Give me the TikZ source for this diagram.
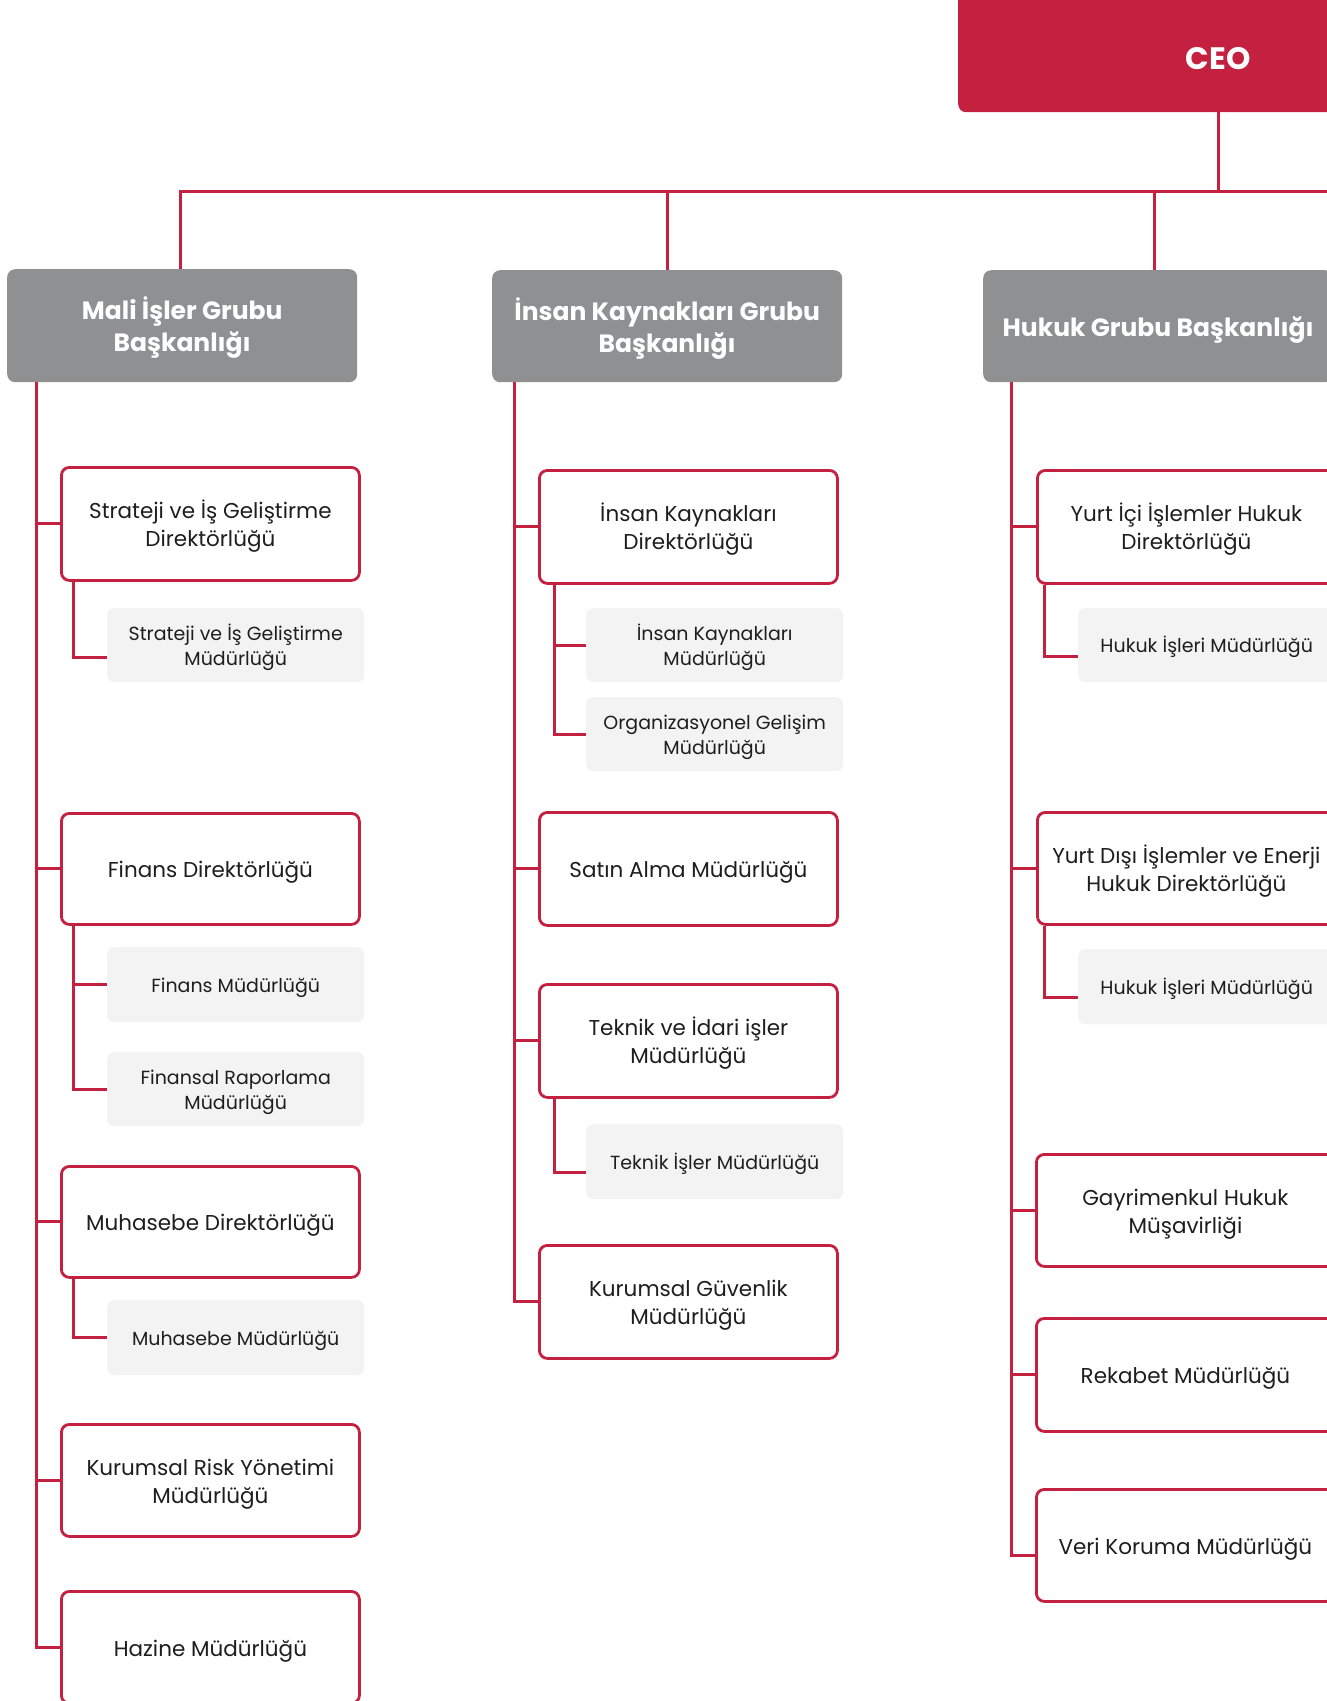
\documentclass[tikz,border=0pt]{standalone}
\usepackage{fontspec}
\setmainfont{Poppins}
\definecolor{brand}{HTML}{C4203F}
\definecolor{hgrey}{HTML}{8F9092}
\definecolor{subgrey}{HTML}{F3F3F3}
\definecolor{ink}{HTML}{1E1E1E}
\newcommand\mytop{\rule{0pt}{1.07em}}
\begin{document}
\begin{tikzpicture}[x=1pt,y=-1pt,
  conn/.style={draw=brand,line width=3pt},
  grpbox/.style={fill=hgrey, rounded corners=8pt, anchor=north west, minimum width=350pt, text=white, font=\bfseries\fontsize{25}{32}\selectfont, align=center, inner sep=0pt},
  dirbox/.style={draw=brand, line width=2.8pt, fill=white, rounded corners=8pt, anchor=north west, minimum width=298pt, text=ink, font=\fontsize{21.5}{28}\selectfont, align=center, inner sep=0pt},
  subbox/.style={fill=subgrey, rounded corners=7pt, anchor=north west, minimum width=257pt, minimum height=74pt, text=ink, font=\fontsize{19}{25.5}\selectfont, align=center, inner sep=0pt},
]
\useasboundingbox (0,0) rectangle (1327,1701);
\clip (0,0) rectangle (1327,1701);

% CEO
\node[fill=brand, rounded corners=8pt, anchor=north west, minimum width=520pt, minimum height=136pt, inner sep=0pt, text=white, font=\bfseries\fontsize{31}{31}\selectfont] (ceo) at (958,-24) {\raisebox{-25pt}[0pt][0pt]{CEO}};

% group heads
\node[grpbox, minimum height=113pt] (mali) at (7,269) {\mytop Mali İşler Grubu\\Başkanlığı};
\node[grpbox, minimum height=112pt] (hr) at (492,270) {\mytop İnsan Kaynakları Grubu\\Başkanlığı};
\node[grpbox, minimum height=112pt] (huk) at (983,270) {\mytop Hukuk Grubu Başkanlığı};

% Mali column
\node[dirbox, minimum height=113pt] (sd) at (60,466) {\mytop Strateji ve İş Geliştirme\\Direktörlüğü};
\node[subbox] (sds) at (107,608) {\mytop Strateji ve İş Geliştirme\\Müdürlüğü};
\node[dirbox, minimum height=111pt] (fd) at (60,812) {\mytop Finans Direktörlüğü};
\node[subbox, minimum height=75pt] (fm) at (107,947) {\mytop Finans Müdürlüğü};
\node[subbox] (frm) at (107,1052) {\mytop Finansal Raporlama\\Müdürlüğü};
\node[dirbox, minimum height=111pt] (md) at (60,1165) {\mytop Muhasebe Direktörlüğü};
\node[subbox, minimum height=75pt] (mm) at (107,1300) {\mytop Muhasebe Müdürlüğü};
\node[dirbox, minimum height=112pt] (kry) at (60,1423) {\mytop Kurumsal Risk Yönetimi\\Müdürlüğü};
\node[dirbox, minimum height=112pt] (hz) at (60,1590) {\mytop Hazine Müdürlüğü};

% HR column
\node[dirbox, minimum height=113pt] (ikd) at (538,469) {\mytop İnsan Kaynakları\\Direktörlüğü};
\node[subbox] (ikm) at (586,608) {\mytop İnsan Kaynakları\\Müdürlüğü};
\node[subbox] (ogm) at (586,697) {\mytop Organizasyonel Gelişim\\Müdürlüğü};
\node[dirbox, minimum height=113pt] (sam) at (538,811) {\mytop Satın Alma Müdürlüğü};
\node[dirbox, minimum height=113pt] (tim) at (538,983) {\mytop Teknik ve İdari işler\\Müdürlüğü};
\node[subbox, minimum height=75pt] (tis) at (586,1124) {\mytop Teknik İşler Müdürlüğü};
\node[dirbox, minimum height=113pt] (kgm) at (538,1244) {\mytop Kurumsal Güvenlik\\Müdürlüğü};

% Hukuk column
\node[dirbox, minimum height=113pt] (yid) at (1036,469) {\mytop Yurt İçi İşlemler Hukuk\\Direktörlüğü};
\node[subbox] (yim) at (1078,608) {\mytop Hukuk İşleri Müdürlüğü};
\node[dirbox, minimum height=112pt] (ydd) at (1036,811) {\mytop Yurt Dışı İşlemler ve Enerji\\Hukuk Direktörlüğü};
\node[subbox, minimum height=75pt] (ydm) at (1078,949) {\mytop Hukuk İşleri Müdürlüğü};
\node[dirbox, minimum height=112pt] (ghm) at (1035,1153) {\mytop Gayrimenkul Hukuk\\Müşavirliği};
\node[dirbox, minimum height=113pt] (rm) at (1035,1317) {\mytop Rekabet Müdürlüğü};
\node[dirbox, minimum height=112pt] (vkm) at (1035,1488) {\mytop Veri Koruma Müdürlüğü};

% top bus
\coordinate (b1) at (180,191);
\coordinate (bR) at (1340,191);
\coordinate (b3) at (1154,191);
\draw[conn] (b1 |- mali.north) -- (b1) -- (bR);
\draw[conn] (ceo.south) -- (ceo.south |- b1);
\draw[conn] (hr.north) -- (hr.north |- b1);
\draw[conn] (b3) -- (b3 |- huk.north);

% Mali trunk
\coordinate (t1) at (36,382);
\draw[conn] (t1) |- (hz.west);
\foreach \n in {sd,fd,md,kry} \draw[conn] (\n.west) -- (\n.west -| t1);
\coordinate (sdx) at ([xshift=13pt]sd.south west);
\draw[conn] (sdx) |- ([yshift=-12pt]sds.west);
\coordinate (fdx) at ([xshift=13pt]fd.south west);
\draw[conn] (fdx) |- (frm.west);
\draw[conn] (fm.west) -- (fm.west -| fdx);
\coordinate (mdx) at ([xshift=13pt]md.south west);
\draw[conn] (mdx) |- (mm.west);

% HR trunk
\coordinate (t2) at (514,382);
\draw[conn] (t2) |- (kgm.west);
\foreach \n in {ikd,sam,tim} \draw[conn] (\n.west) -- (\n.west -| t2);
\coordinate (ikx) at ([xshift=16pt]ikd.south west);
\draw[conn] (ikx) |- (ogm.west);
\draw[conn] (ikm.west) -- (ikm.west -| ikx);
\coordinate (tix) at ([xshift=16pt]tim.south west);
\draw[conn] (tix) |- ([yshift=-11pt]tis.west);

% Hukuk trunk
\coordinate (t3) at (1011,382);
\draw[conn] (t3) |- ([yshift=-10pt]vkm.west);
\foreach \n in {yid,ydd,ghm,rm} \draw[conn] (\n.west) -- (\n.west -| t3);
\coordinate (yix) at ([xshift=8pt]yid.south west);
\draw[conn] (yix) |- ([yshift=-11pt]yim.west);
\coordinate (ydx) at ([xshift=8pt]ydd.south west);
\draw[conn] (ydx) |- ([yshift=-11pt]ydm.west);
\end{tikzpicture}
\end{document}
